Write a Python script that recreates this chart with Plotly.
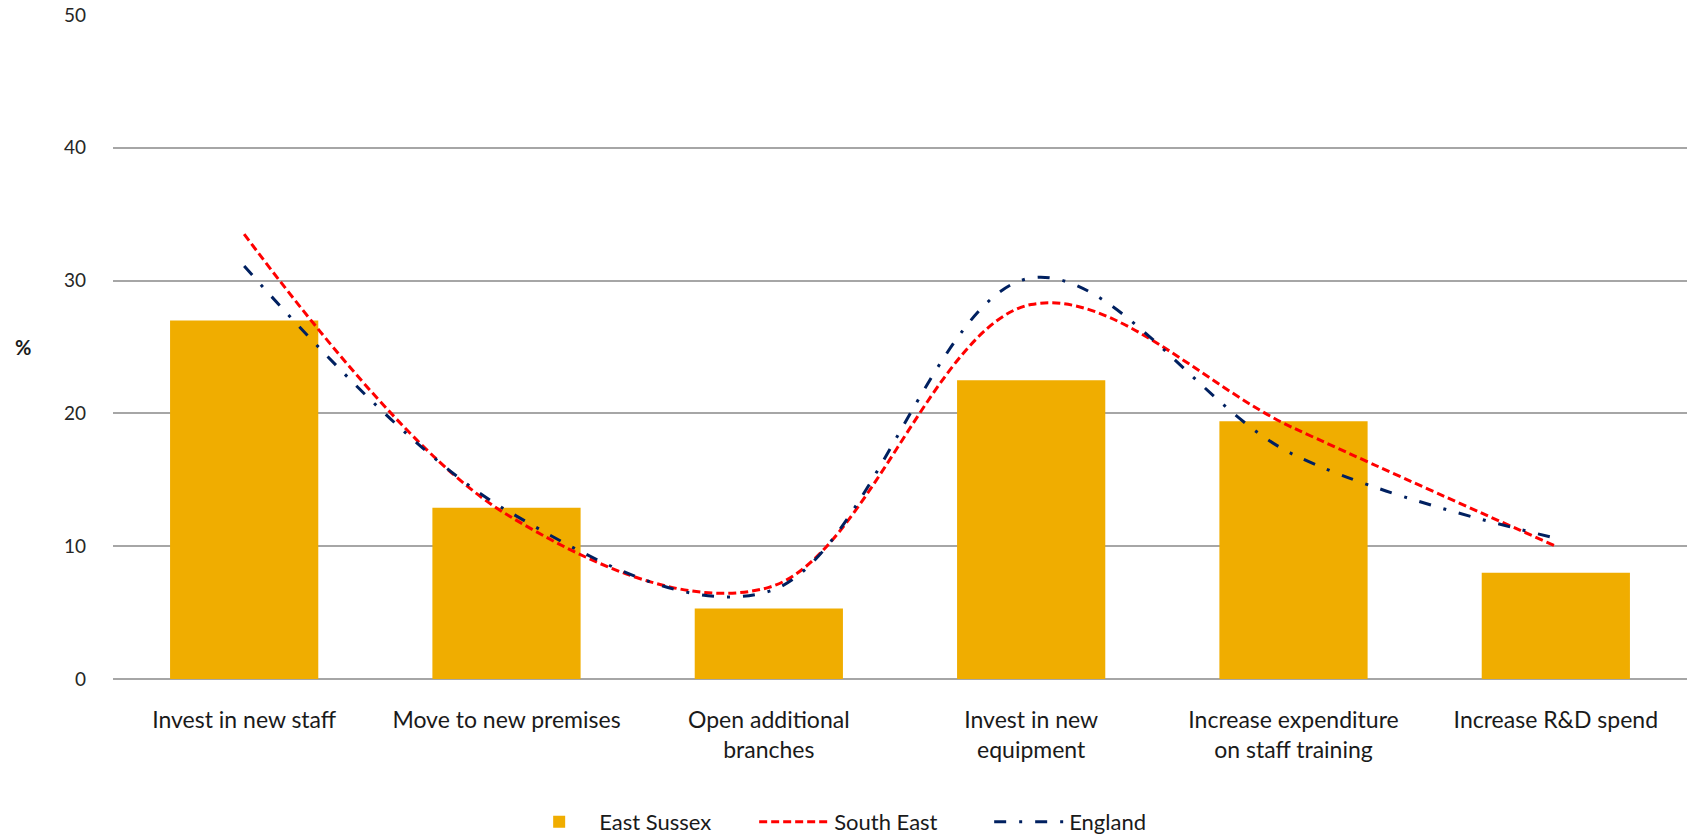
import plotly.graph_objects as go

# Business investment intentions (% of businesses)
categories = [
    "Invest in new staff",
    "Move to new premises",
    "Open additional<br>branches",
    "Invest in new<br>equipment",
    "Increase expenditure<br>on staff training",
    "Increase R&D spend",
]
east_sussex = [27.0, 12.9, 5.3, 22.5, 19.4, 8.0]
south_east = [33.5, 12.4, 6.9, 28.2, 18.9, 10.0]
england = [31.1, 12.7, 6.6, 30.2, 16.9, 10.6]
y_ticks = [0, 10, 20, 30, 40, 50]

label_font = "Lato, Open Sans, sans-serif"

fig = go.Figure()

fig.add_trace(go.Bar(
    x=categories, y=east_sussex, name="East Sussex",
    marker=dict(color="#F0AD00", line=dict(width=0)),
    width=0.565,
))

fig.add_trace(go.Scatter(
    x=categories, y=south_east, name="South East", mode="lines",
    line=dict(color="#FF0000", width=3, dash="8px,4px", shape="spline", smoothing=1.0),
))

fig.add_trace(go.Scatter(
    x=categories, y=england, name="England", mode="lines",
    line=dict(color="#002060", width=3, dash="12px,13px,3px,13px", shape="spline", smoothing=1.0),
))

fig.update_layout(
    width=1687, height=837,
    margin=dict(l=113, r=0, t=15, b=158),
    plot_bgcolor="white", paper_bgcolor="white",
    bargap=0.435,
    showlegend=True,
    legend=dict(
        orientation="h", x=0.482, xanchor="center",
        yref="container", y=0.018, yanchor="middle",
        font=dict(family=label_font, size=22, color="#1a1a1a"),
        itemwidth=70, entrywidth=150, traceorder="normal",
    ),
    xaxis=dict(
        showgrid=False, showline=False, zeroline=False, automargin=False,
        tickfont=dict(family=label_font, size=23, color="#1a1a1a"),
        ticklabelstandoff=25,
    ),
    yaxis=dict(
        range=[0, 50], tickvals=y_ticks, automargin=False,
        showgrid=True, gridcolor="#A6A6A6", gridwidth=1.5,
        zeroline=True, zerolinecolor="#A6A6A6", zerolinewidth=1.5,
        showline=False,
        tickfont=dict(family="Lato, sans-serif", size=19, color="#262626"),
        ticklabelstandoff=26,
    ),
    annotations=[dict(
        text="<b>%</b>", x=0, xref="paper", xanchor="left", xshift=-100,
        y=25, yref="y", yanchor="middle", showarrow=False,
        font=dict(family="Lato, sans-serif", size=20, color="#1a1a1a"),
    )],
)

fig.write_html("out.html")
